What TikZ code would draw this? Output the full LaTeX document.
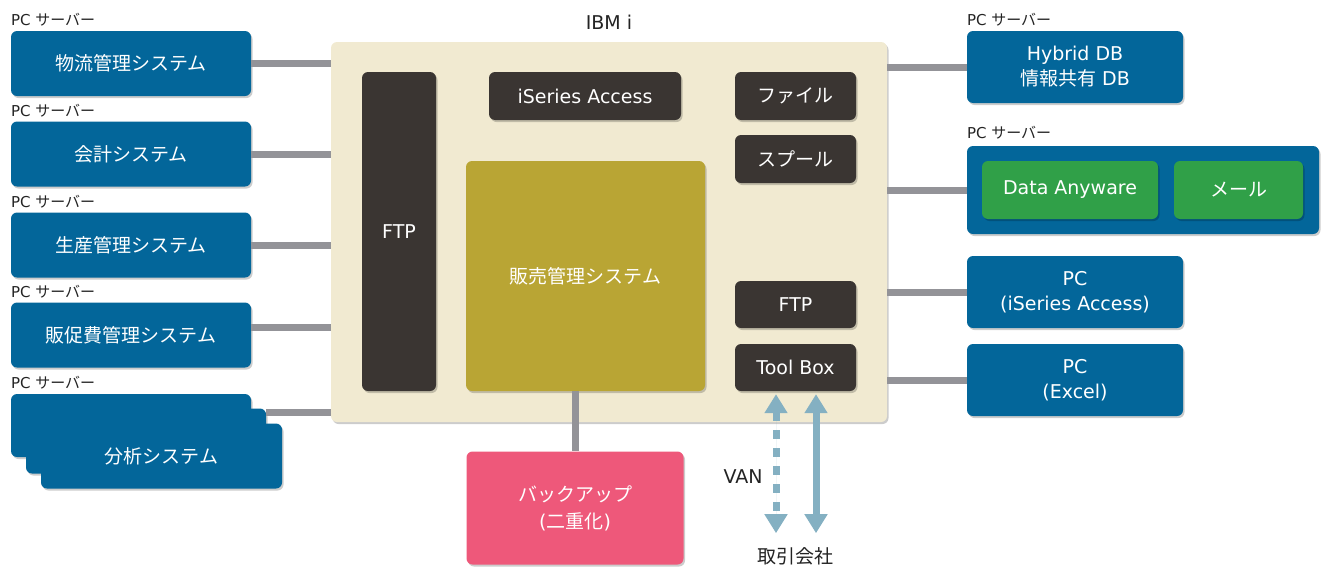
\documentclass[tikz,border=0pt]{standalone}
\usepackage{fontspec}
\setmainfont{DejaVu Sans}
\newfontfamily\jpf{Noto Sans CJK JP}
\newcommand\J[1]{{\jpf #1}}
\usetikzlibrary{arrows.meta,shadows,calc}
\definecolor{cblue}{RGB}{3,102,154}
\definecolor{ccream}{RGB}{241,234,209}
\definecolor{cdark}{RGB}{58,53,50}
\definecolor{colive}{RGB}{185,165,52}
\definecolor{cgreen}{RGB}{48,160,72}
\definecolor{cpink}{RGB}{238,88,122}
\definecolor{cgray}{RGB}{147,147,152}
\definecolor{carrow}{RGB}{132,176,194}
\definecolor{ctext}{RGB}{35,35,35}
\begin{document}
\begin{tikzpicture}[x=1pt,y=-1pt,
  box/.style={rounded corners=6pt, inner sep=0pt, align=center, text=white,
    font=\fontsize{19}{25}\selectfont,
    drop shadow={shadow xshift=1.5pt, shadow yshift=-2pt, opacity=0.2, fill=black}},
  bluebox/.style={box, fill=cblue, minimum width=240pt, minimum height=65pt},
  rbox/.style={box, fill=cblue, minimum width=216pt, minimum height=72pt},
  dkbox/.style={box, fill=cdark, minimum width=121pt, minimum height=48pt},
  grbox/.style={box, fill=cgreen, minimum height=58pt},
  lbl/.style={inner sep=0pt, text=ctext, font=\fontsize{15}{18}\selectfont},
  txt/.style={inner sep=0pt, text=ctext, font=\fontsize{19}{23}\selectfont},
  conn/.style={draw=cgray, line width=7pt},
  varrow/.style={draw=carrow, fill=carrow, line width=7pt,
    {Triangle[width=22pt,length=19pt]}-{Triangle[width=22pt,length=19pt]}}
]
\useasboundingbox (0,0) rectangle (1321,568);

% IBM i main box
\node[box, fill=ccream, minimum width=556pt, minimum height=380pt] (ibm) at (609,232) {};
\node[txt, anchor=base] (ibmlbl) at (609,29) {IBM i};

% inner boxes
\node[dkbox, minimum width=74pt, minimum height=319pt] (ftp1) at (399,231.5) {FTP};
\node[dkbox, minimum width=192pt] (isa) at (585,96) {iSeries Access};
\node[dkbox] (file) at (795.5,96) {\J{ファイル}};
\node[dkbox] (spool) at (795.5,159) {\J{スプール}};
\node[box, fill=colive, minimum width=239pt, minimum height=230pt] (hanbai) at (585.5,276) {\J{販売管理システム}};
\node[dkbox, minimum height=47pt] (ftp2) at (795.5,304.5) {FTP};
\node[dkbox, minimum height=47pt] (tb) at (795.5,367.5) {Tool Box};

% left boxes
\node[bluebox] (b1) at (131,63.5) {\J{物流管理システム}};
\node[bluebox] (b2) at (131,154) {\J{会計システム}};
\node[bluebox] (b3) at (131,245) {\J{生産管理システム}};
\node[bluebox] (b4) at (131,335) {\J{販促費管理システム}};
\node[bluebox, minimum height=63pt] (s1) at (131,425.5) {};
\node[bluebox] (s2) at (146,441) {};
\node[bluebox, minimum width=241pt] (s3) at (161.5,456) {\J{分析システム}};

\node[lbl, anchor=base west] (l1) at ([yshift=5pt]b1.north west) {PC \J{サーバー}};
\node[lbl, anchor=base west] (l2) at ([yshift=5pt]b2.north west) {PC \J{サーバー}};
\node[lbl, anchor=base west] (l3) at ([yshift=5pt]b3.north west) {PC \J{サーバー}};
\node[lbl, anchor=base west] (l4) at ([yshift=5pt]b4.north west) {PC \J{サーバー}};
\node[lbl, anchor=base west] (l5) at ([yshift=5pt]s1.north west) {PC \J{サーバー}};

% right boxes
\node[rbox] (hdb) at (1075,67) {Hybrid DB\\\J{情報共有} DB};
\node[box, fill=cblue, minimum width=352pt, minimum height=88pt] (dac) at (1143,190) {};
\node[grbox, minimum width=176pt] (da) at (1070,190) {Data Anyware};
\node[grbox, minimum width=129pt] (mail) at (1238.5,190) {\J{メール}};
\node[rbox] (pc1) at (1075,292) {PC\\(iSeries Access)};
\node[rbox] (pc2) at (1075,380) {PC\\(Excel)};

\node[lbl, anchor=base west] (lr1) at ([yshift=5pt]hdb.north west) {PC \J{サーバー}};
\node[lbl, anchor=base west] (lr2) at ([yshift=7pt]dac.north west) {PC \J{サーバー}};

% backup box
\node[box, fill=cpink, minimum width=217pt, minimum height=113pt,
  font=\fontsize{19}{27}\selectfont] (bk) at (575,508) {\J{バックアップ}\\(\J{二重化})};

% bottom texts
\node[txt] (van) at (743,477) {VAN};
\node[txt] (tr) at (795,556) {\J{取引会社}};

% connectors left
\draw[conn] (b1.east) -- (b1.east -| ibm.west);
\draw[conn] (b2.east) -- (b2.east -| ibm.west);
\draw[conn] (b3.east) -- (b3.east -| ibm.west);
\coordinate (c4) at ([yshift=8pt]b4.east);
\draw[conn] (c4) -- (c4 -| ibm.west);
\coordinate (c5) at ([yshift=-4pt]s2.north east);
\draw[conn] (c5) -- (c5 -| ibm.west);

% connectors right
\draw[conn] (ibm.east |- hdb.west) -- (hdb.west);
\draw[conn] (ibm.east |- dac.west) -- (dac.west);
\draw[conn] (ibm.east |- pc1.west) -- (pc1.west);
\draw[conn] (ibm.east |- pc2.west) -- (pc2.west);

% backup connector
\draw[conn] (hanbai.south -| bk.north) -- (bk.north);

% arrows to trading company
\coordinate (v1) at ([xshift=-19.5pt,yshift=-3pt]tb.south);
\coordinate (v2) at ([xshift=-19.5pt,yshift=-142pt]tb.south);
\coordinate (t1) at ([xshift=20.5pt,yshift=-3pt]tb.south);
\coordinate (t2) at ([xshift=20.5pt,yshift=-142pt]tb.south);
\draw[varrow, dash pattern=on 9pt off 9pt] (v1) -- (v2);
\draw[varrow] (t1) -- (t2);
\end{tikzpicture}
\end{document}
